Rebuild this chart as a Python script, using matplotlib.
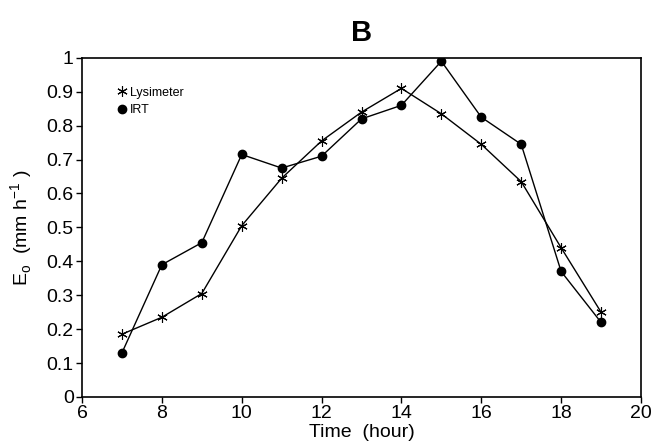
import matplotlib
matplotlib.use("Agg")
import matplotlib.pyplot as plt

hours = [7, 8, 9, 10, 11, 12, 13, 14, 15, 16, 17, 18, 19]
lysimeter = [0.185, 0.235, 0.305, 0.505, 0.645, 0.755, 0.84, 0.91, 0.835, 0.745, 0.635, 0.44, 0.25]
irt = [0.13, 0.39, 0.455, 0.715, 0.675, 0.71, 0.82, 0.86, 0.99, 0.825, 0.745, 0.37, 0.22]
xticks = [6, 8, 10, 12, 14, 16, 18, 20]
yticks = [0, 0.1, 0.2, 0.3, 0.4, 0.5, 0.6, 0.7, 0.8, 0.9, 1]
ytick_labels = ["0", "0.1", "0.2", "0.3", "0.4", "0.5", "0.6", "0.7", "0.8", "0.9", "1"]

plt.rcParams['font.family'] = ['Liberation Sans', 'DejaVu Sans']

fig = plt.figure(figsize=(6.53, 4.45), dpi=100)
ax = fig.add_axes([0.1256, 0.108, 0.856, 0.762])

ax.plot(hours, lysimeter, color='black', lw=1.0, marker=(6, 2, 0), ms=7.5, mew=0.8,
        label='Lysimeter')
ax.plot(hours, irt, color='black', lw=1.0, marker='o', ms=6, label='IRT')

ax.set_xlim(6, 20)
ax.set_ylim(0, 1)
ax.set_xticks(xticks)
ax.set_yticks(yticks)
ax.set_yticklabels(ytick_labels)
ax.tick_params(direction='out', length=4, width=1, labelsize=14, colors='black', pad=2)
for s in ax.spines.values():
    s.set_linewidth(1.2)

ax.set_xlabel('Time  (hour)', fontsize=14, labelpad=1)
ax.set_ylabel(r'E$_\mathregular{o}$  (mm h$^\mathregular{-1}$ )', fontsize=14, labelpad=8)
ax.set_title('B', fontsize=21, fontweight='bold', pad=12)

leg = ax.legend(loc='upper left', bbox_to_anchor=(0.055, 0.93), frameon=False,
                fontsize=9, handlelength=0.7, handletextpad=0.3, labelspacing=0.45,
                borderaxespad=0)
for l in leg.get_lines():
    l.set_linestyle('none')

fig.savefig('out.png', dpi=100)
